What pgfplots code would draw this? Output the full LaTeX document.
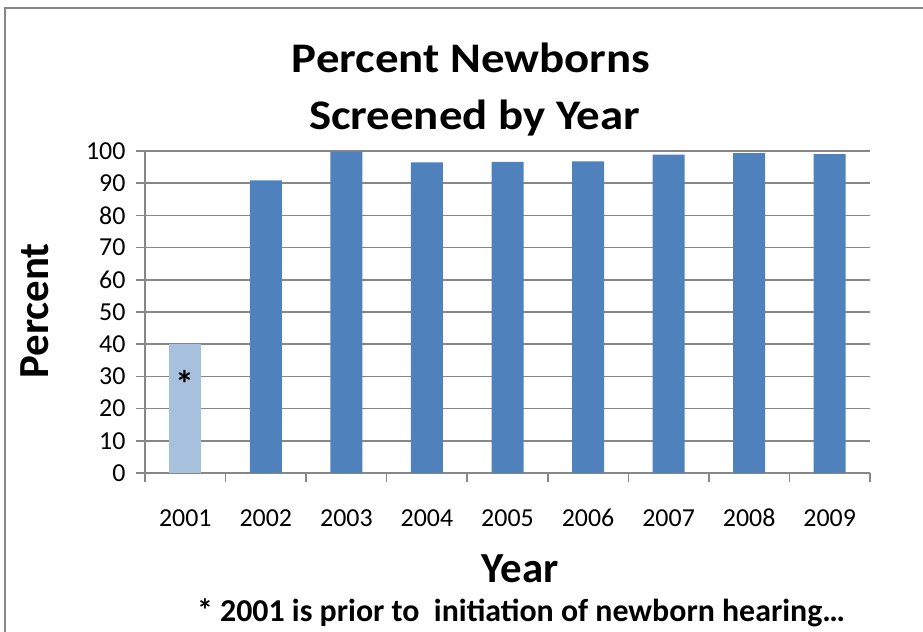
\documentclass[border=0pt]{standalone}
\usepackage{pgfplots}
\pgfplotsset{compat=1.18}
\usepackage{fontspec}
\setmainfont{Carlito}
\definecolor{barblue}{HTML}{4F81BD}
\definecolor{barlight}{HTML}{A7C0DE}
\definecolor{gridgray}{HTML}{878787}
\begin{document}
\begin{tikzpicture}[x=1bp,y=1bp]
\path[use as bounding box] (0,0) rectangle (923,632);
\draw[color=gridgray, line width=2bp] (5,-2) -- (5,624) -- (925,624);
\begin{axis}[
  at={(145bp,159bp)}, anchor=south west,
  scale only axis, width=725bp, height=322bp,
  ymin=0, ymax=100, ytick={0,10,...,100},
  xmin=-0.5, xmax=8.5,
  xtick={0,...,8}, xticklabels={2001,2002,2003,2004,2005,2006,2007,2008,2009},
  xtick style={draw=none},
  extra x ticks={-0.5,0.5,...,8.5}, extra x tick labels={},
  extra x tick style={xtick style={draw=gridgray, line width=1.5bp}, grid=none},
  ymajorgrids, grid style={gridgray, line width=1.5bp},
  axis x line*=bottom, axis y line*=left,
  axis line style={gridgray, line width=2bp, -},
  ytick style={gridgray, line width=1.5bp},
  tick align=outside, major tick length=9bp,
  ybar, bar width=32bp,
  ticklabel style={font=\fontsize{26}{30}\selectfont},
  /pgf/number format/assume math mode=true,
  yticklabel style={xshift=-7bp},
  xticklabel style={yshift=-24bp, text height=17bp, text depth=1bp},
]
\addplot[fill=barlight, draw=none, bar shift=0pt] coordinates {(0,40)};
\addplot[fill=barblue, draw=none, bar shift=0pt] coordinates {(1,90.9) (2,99.8) (3,96.5) (4,96.6) (5,96.8) (6,98.9) (7,99.3) (8,99.0)};
\node[font=\fontsize{38}{40}\selectfont\bfseries] at (axis cs:0,27.5) {*};
\end{axis}
\node[anchor=base, font=\fontsize{47}{52}\selectfont\bfseries] at (471,559) {\scalebox{1}[0.9]{Percent Newborns}};
\node[anchor=base, font=\fontsize{47}{52}\selectfont\bfseries] at (474.5,502) {\scalebox{1}[0.9]{Screened by Year}};
\node[anchor=base, font=\fontsize{43}{50}\selectfont\bfseries] at (520,49) {Year};
\node[anchor=base, rotate=90, font=\fontsize{43}{50}\selectfont\bfseries] at (48,321) {Percent};
\node[anchor=base, font=\fontsize{32}{36}\selectfont\bfseries] at (521,10) {* 2001 is prior to\ \ initiation of newborn hearing…};
\end{tikzpicture}
\end{document}
